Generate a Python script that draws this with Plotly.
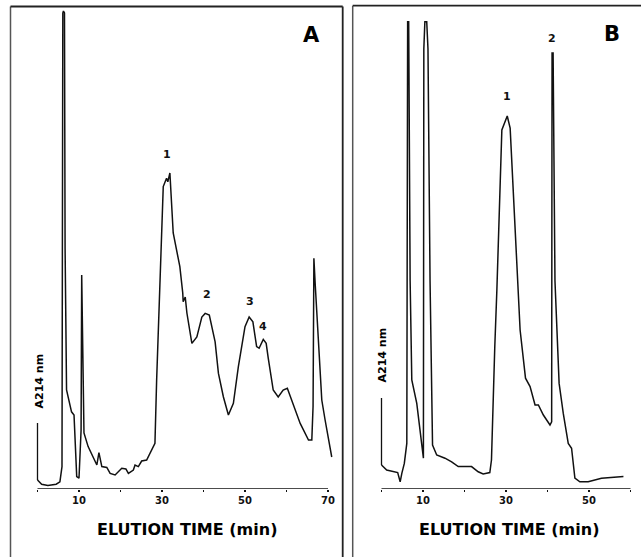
import plotly.graph_objects as go

# ---------------- data ----------------
# Panel A: elution time (min) and A214 signal (arbitrary units)
time_a = [0, 1.0, 2.5, 4.5, 5.4, 5.9, 6.1, 6.25, 6.5, 6.65, 7.0, 8.2, 8.8, 9.45, 10.0,
          10.5, 10.65, 11.2, 12.2, 14.3, 14.8, 15.5, 16.7, 17.5, 18.7, 20.3, 21.3, 21.9,
          23.1, 23.5, 24.3, 25.1, 26.3, 27.9, 28.3, 28.7, 29.5, 30.3, 30.9, 31.1, 31.4,
          31.9, 32.7, 34.3, 35.0, 35.1, 35.6, 36.0, 37.2, 38.4, 39.6, 40.4, 41.4, 42.8,
          43.6, 44.8, 46.0, 47.2, 48.4, 50.0, 51.0, 51.9, 52.8, 53.4, 54.4, 55.1, 55.6,
          56.8, 58.0, 59.2, 60.2, 61.6, 63.3, 65.3, 66.1, 66.4, 66.6, 66.9, 67.1, 68.5,
          69.3, 70.9]
signal_a = [2.25, 1.2, 0.9, 1.2, 1.8, 5.6, 119, 119.5, 119, 60, 24.75, 19.3, 18.5, 3.1, 2.7,
            14.7, 53.5, 14, 10.6, 6, 9.1, 5.6, 5.4, 3.9, 3.5, 5.2, 5, 3.9,
            4.75, 6, 5.6, 7, 7.25, 10.6, 11.4, 27, 52, 75.6, 77.2, 77.7, 76.8,
            79, 64, 55.6, 49, 46.8, 48, 44, 36.4, 38, 43, 43.9, 43.5, 36.8,
            28.9, 23, 18.5, 21.4, 30.6, 40.6, 43, 41.8, 35.6, 35.2, 37.4, 36.4, 32.7,
            24.75, 23, 24.75, 25.2, 21, 16.4, 12.25, 12.25, 20.6, 57.7, 51.5, 48, 22.25,
            17.25, 8]

# Panel B
time_b = [0, 1.25, 3.9, 4.5, 4.9, 5.5, 6.1, 6.3, 6.55, 6.9, 7.3, 8.5, 10.1, 10.2, 10.45,
          10.9, 11.2, 11.7, 12.3, 13.3, 15.3, 16.9, 18.5, 21.7, 23.3, 24.5, 26.1, 26.5,
          27.3, 27.8, 29.0, 29.5, 30.3, 31.0, 33.0, 33.4, 34.7, 35.8, 37.0, 37.8, 39.0,
          40.6, 41.0, 41.1, 41.35, 41.8, 42.8, 43.8, 45.0, 45.8, 46.6, 47.8, 49.8, 53.0, 58.3]
signal_b = [6, 4.75, 4.1, 1.8, 3.9, 6.4, 11.4, 116.8, 116.8, 52, 27.25, 21.4, 7.7, 110, 116.8,
            116.8, 110, 52, 11, 8.5, 7.7, 6.8, 5.6, 5.6, 4.3, 3.75, 4.1, 7.25,
            35.6, 49.75, 89.75, 91, 93.25, 90.2, 49.75, 39.75, 27.7, 25.6, 21, 21, 18.5,
            16, 16.8, 109, 109, 52, 26.4, 18.9, 11.4, 10.2, 2.7, 1.8, 1.8, 2.7, 3.1]

ticks_a = [0, 10, 20, 30, 40, 50, 60, 70]
labels_a = ["", "10", "", "30", "", "50", "", "70"]
ticks_b = [0, 10, 20, 30, 40, 50, 60]
labels_b = ["", "10", "", "30", "", "50", ""]

peaks_a_labels = ["1", "2", "3", "4"]
peaks_a_time = [31.1, 40.8, 51.2, 54.4]
peaks_a_height = [83.5, 48.75, 46.8, 40.6]
peaks_b_labels = ["1", "2"]
peaks_b_time = [30.2, 41.0]
peaks_b_height = [98, 112.7]

scale_a = [2.25, 16.5]   # A214 scale bar span (panel A)
scale_b = [6, 22.75]     # A214 scale bar span (panel B)

# ---------------- figure ----------------
W, H = 641, 557
def px(x):
    return x / W
def py(y):
    return 1 - y / H

INK = "#111111"
FONT = "DejaVu Sans"

fig = go.Figure()
fig.add_trace(go.Scatter(x=time_a, y=signal_a, xaxis="x", yaxis="y", mode="lines",
                         line=dict(color=INK, width=1.5), hoverinfo="skip", showlegend=False))
fig.add_trace(go.Scatter(x=time_b, y=signal_b, xaxis="x2", yaxis="y2", mode="lines",
                         line=dict(color=INK, width=1.5), hoverinfo="skip", showlegend=False))

ydom = [py(489), py(9)]
common_x = dict(showgrid=False, zeroline=False, showline=False, ticks="outside",
                ticklen=2, tickwidth=1.5, tickcolor=INK,
                tickfont=dict(family=FONT, size=10, color=INK), fixedrange=True)
fig.update_layout(
    width=W, height=H, margin=dict(l=0, r=0, t=0, b=0),
    paper_bgcolor="white", plot_bgcolor="white", showlegend=False,
    xaxis=dict(domain=[px(37.5 - 4.15), px(37.5 + 72 * 4.15)], range=[-1, 72],
               tickvals=ticks_a, ticktext=["<b>%s</b>" % t for t in labels_a],
               anchor="y", **common_x),
    yaxis=dict(domain=ydom, range=[0, 120], visible=False, anchor="x", fixedrange=True),
    xaxis2=dict(domain=[px(381.5 - 4.15), px(381.5 + 62 * 4.15)], range=[-1, 62],
                tickvals=ticks_b, ticktext=["<b>%s</b>" % t for t in labels_b],
                anchor="y2", **common_x),
    yaxis2=dict(domain=ydom, range=[0, 120], visible=False, anchor="x2", fixedrange=True),
)

shapes = []
# axis lines
shapes.append(dict(type="line", xref="x", yref="y", x0=ticks_a[0], x1=ticks_a[-1], y0=0, y1=0,
                   line=dict(color=INK, width=1.5)))
shapes.append(dict(type="line", xref="x2", yref="y2", x0=ticks_b[0], x1=ticks_b[-1], y0=0, y1=0,
                   line=dict(color=INK, width=1.5)))
# scale bars
shapes.append(dict(type="line", xref="x", yref="y", x0=0, x1=0, y0=scale_a[0], y1=scale_a[1],
                   line=dict(color=INK, width=1.3)))
shapes.append(dict(type="line", xref="x2", yref="y2", x0=0, x1=0, y0=scale_b[0], y1=scale_b[1],
                   line=dict(color=INK, width=1.3)))
# panel frames
frame = dict(color="#222", width=1.8)
shapes += [
    dict(type="line", xref="paper", yref="paper", x0=px(10.5), x1=px(10.5), y0=py(6.5), y1=0, line=dict(color="#555", width=1.5)),
    dict(type="line", xref="paper", yref="paper", x0=px(10.5), x1=px(342.7), y0=py(6.5), y1=py(6.5), line=frame),
    dict(type="line", xref="paper", yref="paper", x0=px(342.7), x1=px(342.7), y0=py(6.5), y1=0, line=frame),
    dict(type="line", xref="paper", yref="paper", x0=px(352.7), x1=px(352.7), y0=py(5.7), y1=0, line=dict(color="#555", width=1.5)),
    dict(type="line", xref="paper", yref="paper", x0=px(352.7), x1=1, y0=py(5.7), y1=py(5.7), line=frame),
]
fig.update_layout(shapes=shapes)

C = dict(showarrow=False, xanchor="center", yanchor="middle")
ann = []
for lab, t, h in zip(peaks_a_labels, peaks_a_time, peaks_a_height):
    ann.append(dict(x=t, y=h, xref="x", yref="y", text="<b>%s</b>" % lab,
                    font=dict(family=FONT, size=11, color=INK), **C))
for lab, t, h in zip(peaks_b_labels, peaks_b_time, peaks_b_height):
    ann.append(dict(x=t, y=h, xref="x2", yref="y2", text="<b>%s</b>" % lab,
                    font=dict(family=FONT, size=11, color=INK), **C))
# panel letters
ann.append(dict(x=px(311.7), y=py(35), xref="paper", yref="paper", text="<b>A</b>",
                font=dict(family=FONT, size=21, color="#000"), **C))
ann.append(dict(x=px(611.7), y=py(33.5), xref="paper", yref="paper", text="<b>B</b>",
                font=dict(family=FONT, size=21, color="#000"), **C))
# axis titles
for cx in (186.5, 509):
    ann.append(dict(x=px(cx), y=py(529), xref="paper", yref="paper", text="<b>ELUTION TIME (min)</b>",
                    font=dict(family=FONT, size=16, color="#000"), **C))
for cx, cy in ((38.5, 381), (381.5, 355)):
    ann.append(dict(x=px(cx), y=py(cy), xref="paper", yref="paper", text="<b>A214 nm</b>",
                    textangle=-90, font=dict(family=FONT, size=11, color="#000"), **C))
fig.update_layout(annotations=ann)

fig.write_html(
    "out.html",
    config={"displayModeBar": False, "staticPlot": True},
    post_script="document.body.style.margin='0';document.body.style.overflow='hidden';",
)
